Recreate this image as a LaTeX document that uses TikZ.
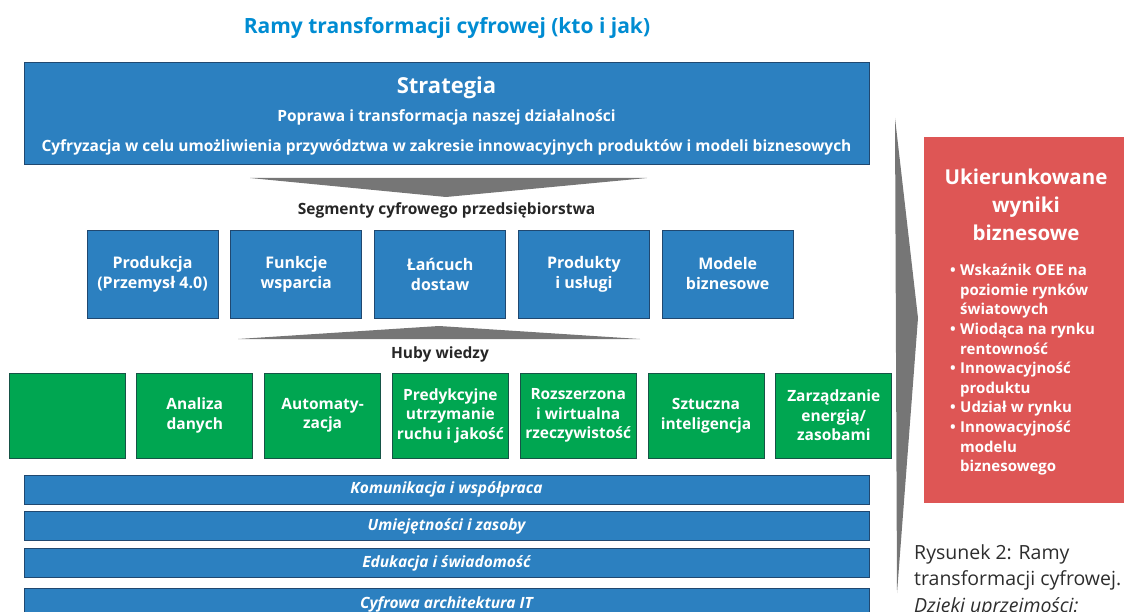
\documentclass[tikz,border=0pt]{standalone}
\usepackage{fontspec}
\setmainfont{Open Sans}
\usetikzlibrary{positioning}

\definecolor{boxblue}{RGB}{44,128,192}
\definecolor{boxedge}{RGB}{32,72,112}
\definecolor{hubgreen}{RGB}{0,166,81}
\definecolor{hubedge}{RGB}{22,84,70}
\definecolor{goalred}{RGB}{222,86,85}
\definecolor{wedgegray}{RGB}{118,118,118}
\definecolor{titleblue}{RGB}{0,140,210}
\definecolor{captiongray}{RGB}{45,45,45}

\newcommand{\fsz}[2]{\fontsize{#1}{#2}\selectfont}
\newcommand{\rbul}{\makebox[10pt][l]{\textbullet}}
\newcommand{\rind}{\hspace*{10pt}}

\begin{document}
\begin{tikzpicture}[x=1pt,y=-1pt,
  bluebox/.style={draw=boxedge, line width=0.8pt, fill=boxblue, rectangle, text=white},
  segment/.style={bluebox, minimum width=131pt, minimum height=88pt, inner sep=1pt, align=center, font=\fsz{16}{20}\bfseries},
  hub/.style={draw=hubedge, line width=0.8pt, fill=hubgreen, minimum width=116pt, minimum height=85pt, inner sep=1pt, align=center, text=white, font=\fsz{15.5}{19.5}\bfseries},
  layer/.style={bluebox, minimum width=845pt, minimum height=29pt, font=\fsz{15.5}{17}\bfseries\itshape},
  wedge/.style={fill=wedgegray, draw=none},
  heading/.style={font=\fsz{15.5}{17}\bfseries, text=black!85}]
\useasboundingbox (0,0) rectangle (1124,612);
\clip (0,0) rectangle (1124,612);
% Title
\node[font=\fsz{21}{24}\bfseries, text=titleblue] (title) at (447,28) {Ramy transformacji cyfrowej (kto i jak)};
% Strategia
\node[bluebox, minimum width=845pt, minimum height=102pt] (strategia) at (446.5,113.5) {};
\node[text=white, font=\fsz{22}{26}\bfseries] (strat-head) at (446.5,88) {Strategia};
\node[text=white, font=\fsz{15.5}{18}\bfseries] (strat-aim1) at (446.5,117) {Poprawa i transformacja naszej działalności};
\node[text=white, font=\fsz{15.5}{18}\bfseries] (strat-aim2) at (446.5,147) {Cyfryzacja w celu umożliwienia przywództwa w zakresie innowacyjnych produktów i modeli biznesowych};
\draw[wedge] (250,178) -- (647,178) -- (446,197) -- cycle;
% Segmenty
\node[heading] (seg-label) at (446.5,210) {Segmenty cyfrowego przedsiębiorstwa};
\node[segment] (seg-prod) at (152.5,274) {Produkcja\\(Przemysł 4.0)};
\node[segment, right=12pt of seg-prod] (seg-func) {Funkcje\\wsparcia};
\node[segment, right=12pt of seg-func] (seg-chain) {Łańcuch\\dostaw};
\node[segment, right=12pt of seg-chain] (seg-prodserv) {Produkty\\i usługi};
\node[segment, right=12pt of seg-prodserv] (seg-models) {Modele\\biznesowe};
\draw[wedge] (238,339) -- (640,339) -- (439,326) -- cycle;
% Huby
\node[heading] (hub-label) at (440,354) {Huby wiedzy};
\node[hub] (hub-0) at (67,415.5) {};
\node[hub, right=11pt of hub-0] (hub-data) {Analiza\\danych};
\node[hub, right=11pt of hub-data] (hub-auto) {Automaty-\\zacja};
\node[hub, right=11pt of hub-auto] (hub-pred) {Predykcyjne\\utrzymanie\\ruchu i jakość};
\node[hub, right=11pt of hub-pred] (hub-ar) {Rozszerzona\\i wirtualna\\rzeczywistość};
\node[hub, right=11pt of hub-ar] (hub-ai) {Sztuczna\\inteligencja};
\node[hub, right=11pt of hub-ai] (hub-energy) {Zarządzanie\\energią/\\zasobami};
% Fundamenty
\node[layer] (base-comm) at (446.5,489.5) {Komunikacja i współpraca};
\node[layer, below=7pt of base-comm] (base-skills) {Umiejętności i zasoby};
\node[layer, below=7pt of base-skills] (base-edu) {Edukacja i świadomość};
\node[layer, minimum height=32pt, below=10pt of base-edu] (base-it) {Cyfrowa architektura IT};
% Wyniki
\draw[wedge] (895,118) -- (918,318) -- (897,593) -- cycle;
\node[fill=goalred, minimum width=206pt, minimum height=366pt] (goals) at (1027,320) {};
\node[text=white, align=center, font=\fsz{20.5}{28}\bfseries] (goals-head) at (1026,205) {Ukierunkowane\\wyniki\\biznesowe};
\node[anchor=north west, text=white, align=left, font=\fsz{15}{19.6}\bfseries, inner sep=0pt] (goals-list) at (950,264) {%
\rbul Wskaźnik OEE na\\
\rind poziomie rynków\\
\rind światowych\\
\rbul Wiodąca na rynku\\
\rind rentowność\\
\rbul Innowacyjność\\
\rind produktu\\
\rbul Udział w rynku\\
\rbul Innowacyjność\\
\rind modelu\\
\rind biznesowego};
% Podpis
\node[anchor=north west, align=left, text=captiongray, font=\fsz{19.5}{26.5}, inner sep=0pt] (caption) at (914,544) {Rysunek 2: Ramy\\transformacji cyfrowej.\\\textit{Dzięki uprzejmości:}};
\end{tikzpicture}
\end{document}
